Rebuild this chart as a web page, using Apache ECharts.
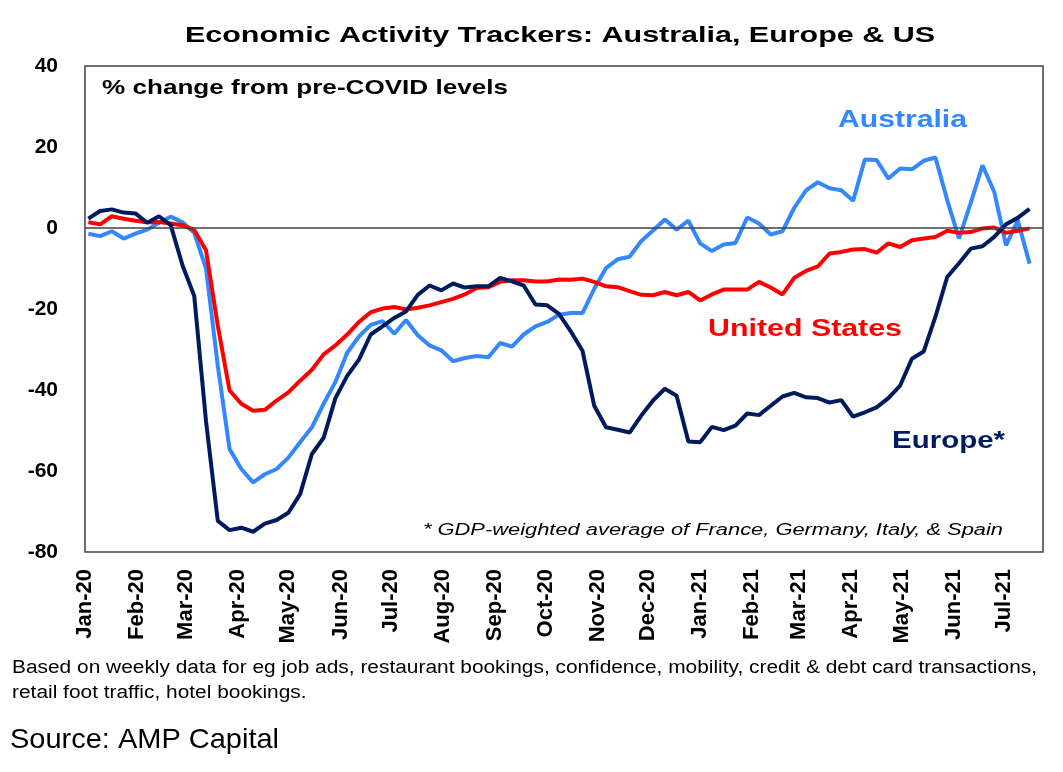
<!DOCTYPE html>
<html>
<head>
<meta charset="utf-8">
<title>Economic Activity Trackers: Australia, Europe & US</title>
<script src="https://cdn.jsdelivr.net/npm/echarts@6/dist/echarts.min.js"></script>
<style>
  html, body { margin: 0; padding: 0; background: #fff; }
  #chart { width: 1063px; height: 772px; }
</style>
</head>
<body>
<div id="chart"></div>
<script>
// weekly readings, % change from pre-COVID levels (first week ending 3 Jan 2020)
const firstWeek = Date.UTC(2020, 0, 3);
const australia = [
  -1.4, -2.0, -0.8, -2.6, -1.4, -0.4, 1.3, 2.8, 1.4, -1.2,
  -10.0, -34.0, -54.6, -59.5, -62.8, -60.8, -59.5, -56.7, -52.9, -49.2,
  -43.4, -38.0, -30.8, -26.8, -23.9, -23.0, -26.1, -22.7, -26.5, -29.0,
  -30.2, -32.9, -32.1, -31.6, -31.9, -28.4, -29.3, -26.3, -24.3, -23.2,
  -21.4, -21.0, -21.0, -15.0, -9.9, -7.7, -7.1, -3.2, -0.6, 2.1,
  -0.4, 1.8, -3.8, -5.7, -4.1, -3.7, 2.6, 1.1, -1.6, -0.8,
  5.0, 9.3, 11.3, 9.8, 9.3, 6.7, 16.9, 16.8, 12.2, 14.7,
  14.5, 16.6, 17.4, 6.9, -2.6, 6.2, 15.5, 8.9, -4.3, 1.9,
  -8.8
];
const unitedStates = [
  1.4, 0.9, 2.9, 2.3, 1.8, 1.4, 1.5, 1.1, 0.7, -0.5,
  -5.5, -24.1, -40.1, -43.4, -45.1, -44.9, -42.6, -40.6, -37.7, -35.0,
  -31.2, -29.0, -26.3, -23.2, -20.8, -19.9, -19.5, -20.1, -19.7, -19.1,
  -18.3, -17.5, -16.4, -14.8, -14.6, -13.3, -12.9, -12.9, -13.2, -13.2,
  -12.7, -12.8, -12.5, -13.3, -14.4, -14.6, -15.6, -16.5, -16.6, -15.8,
  -16.6, -15.8, -17.9, -16.4, -15.2, -15.2, -15.2, -13.3, -14.7, -16.4,
  -12.3, -10.6, -9.5, -6.3, -5.9, -5.3, -5.2, -6.1, -3.8, -4.7,
  -3.0, -2.6, -2.2, -0.7, -1.2, -1.0, -0.1, 0.1, -1.2, -0.7,
  -0.1
];
const europe = [
  2.3, 4.2, 4.6, 3.8, 3.6, 1.3, 2.9, 0.7, -9.2, -16.8,
  -47.7, -72.3, -74.6, -74.0, -75.0, -73.0, -72.1, -70.3, -65.7, -55.8,
  -51.8, -42.0, -36.5, -32.5, -26.3, -24.3, -22.2, -20.6, -16.5, -14.2,
  -15.4, -13.7, -14.7, -14.4, -14.4, -12.3, -13.2, -14.2, -18.9, -19.1,
  -21.2, -25.5, -30.3, -43.9, -49.2, -49.8, -50.5, -46.3, -42.6, -39.7,
  -41.4, -52.7, -52.9, -49.1, -49.9, -48.8, -45.8, -46.2, -43.9, -41.6,
  -40.7, -41.8, -42.0, -43.1, -42.5, -46.6, -45.5, -44.3, -42.0, -38.9,
  -32.3, -30.5, -21.9, -12.1, -8.7, -5.1, -4.5, -2.2, 0.9, 2.5,
  4.7
];
const monthNames = ['Jan', 'Feb', 'Mar', 'Apr', 'May', 'Jun', 'Jul', 'Aug', 'Sep', 'Oct', 'Nov', 'Dec'];
const yTicks = [-80, -60, -40, -20, 0, 20, 40];

const DAY = 24 * 3600 * 1000;
const FONT = '"Liberation Sans", Arial, Helvetica, sans-serif';

function weekly(values) {
  return values.map((v, i) => [firstWeek + i * 7 * DAY, v]);
}

function monthLabel(value) {
  const d = new Date(value);
  if (d.getUTCDate() !== 1) return '';
  return monthNames[d.getUTCMonth()] + '-' + String(d.getUTCFullYear()).slice(2);
}

// the original text is drawn wider than plain Arial, so stretch each line to its width
const measureCtx = document.createElement('canvas').getContext('2d');
function textItem(text, left, midY, size, opts) {
  opts = opts || {};
  const weight = opts.weight || 'normal';
  const style = opts.italic ? 'italic' : 'normal';
  measureCtx.font = style + ' ' + weight + ' ' + size + 'px ' + FONT;
  const natural = measureCtx.measureText(text).width;
  return {
    type: 'text',
    x: left,
    y: midY,
    scaleX: opts.width ? opts.width / natural : (opts.scaleX || 1),
    z: 100,
    silent: true,
    style: {
      text: text,
      fill: opts.color || '#000',
      fontSize: size,
      fontWeight: weight,
      fontStyle: style,
      fontFamily: FONT,
      align: 'left',
      verticalAlign: 'middle',
      textAlign: 'left',
      textVerticalAlign: 'middle'
    }
  };
}

const chart = echarts.init(document.getElementById('chart'), null, { renderer: 'canvas' });

const noteLine1 = 'Based on weekly data for eg job ads, restaurant bookings, confidence, mobility, credit & debt card transactions,';
measureCtx.font = 'normal normal 18px ' + FONT;
const noteStretch = 1025 / measureCtx.measureText(noteLine1).width;

const option = {
  useUTC: true,
  animation: false,
  backgroundColor: '#fff',
  grid: {
    left: 85,
    right: 20,
    top: 66,
    bottom: 220,
    show: true,
    borderColor: '#404040',
    borderWidth: 1.5,
    backgroundColor: 'transparent'
  },
  xAxis: {
    type: 'time',
    min: Date.UTC(2020, 0, 1),
    max: Date.UTC(2021, 6, 24),
    minInterval: 28 * DAY,
    maxInterval: 31 * DAY,
    axisLine: { show: false },
    axisTick: { show: false },
    splitLine: { show: false },
    axisLabel: {
      rotate: 90,
      margin: 17,
      fontSize: 22,
      fontWeight: 'bold',
      fontFamily: FONT,
      color: '#000',
      hideOverlap: false,
      formatter: monthLabel
    }
  },
  yAxis: {
    type: 'value',
    min: yTicks[0],
    max: yTicks[yTicks.length - 1],
    interval: 20,
    axisLine: { show: false },
    axisTick: { show: false },
    splitLine: { show: false },
    axisLabel: {
      margin: 27,
      fontSize: 21,
      fontWeight: 'bold',
      fontFamily: FONT,
      color: '#000'
    }
  },
  series: [
    {
      name: 'Australia',
      type: 'line',
      data: weekly(australia),
      symbol: 'none',
      lineStyle: { color: '#3388ff', width: 4 },
      itemStyle: { color: '#3388ff' },
      silent: true,
      markLine: {
        silent: true,
        symbol: ['none', 'none'],
        label: { show: false },
        lineStyle: { color: '#404040', width: 1.5, type: 'solid' },
        data: [{ yAxis: 0 }]
      }
    },
    {
      name: 'United States',
      type: 'line',
      data: weekly(unitedStates),
      symbol: 'none',
      lineStyle: { color: '#ff0000', width: 4 },
      itemStyle: { color: '#ff0000' },
      silent: true
    },
    {
      name: 'Europe*',
      type: 'line',
      data: weekly(europe),
      symbol: 'none',
      lineStyle: { color: '#001a5e', width: 4 },
      itemStyle: { color: '#001a5e' },
      silent: true
    }
  ],
  graphic: [
    textItem('Economic Activity Trackers: Australia, Europe & US', 185, 36, 22, { weight: 'bold', width: 750 }),
    textItem('% change from pre-COVID levels', 102, 88, 21, { weight: 'bold', width: 406 }),
    textItem('Australia', 838, 121, 23, { weight: 'bold', width: 129, color: '#3388ff' }),
    textItem('United States', 708, 330, 23, { weight: 'bold', width: 194, color: '#ff0000' }),
    textItem('Europe*', 892, 442, 23, { weight: 'bold', width: 113, color: '#001a5e' }),
    textItem('* GDP-weighted average of France, Germany, Italy, & Spain', 423, 531, 16, { italic: true, width: 580 }),
    textItem(noteLine1, 12, 668, 18, { scaleX: noteStretch }),
    textItem('retail foot traffic, hotel bookings.', 12, 693, 18, { scaleX: noteStretch }),
    textItem('Source: AMP Capital', 10, 740, 28, { width: 269 })
  ]
};

chart.setOption(option);
</script>
</body>
</html>
